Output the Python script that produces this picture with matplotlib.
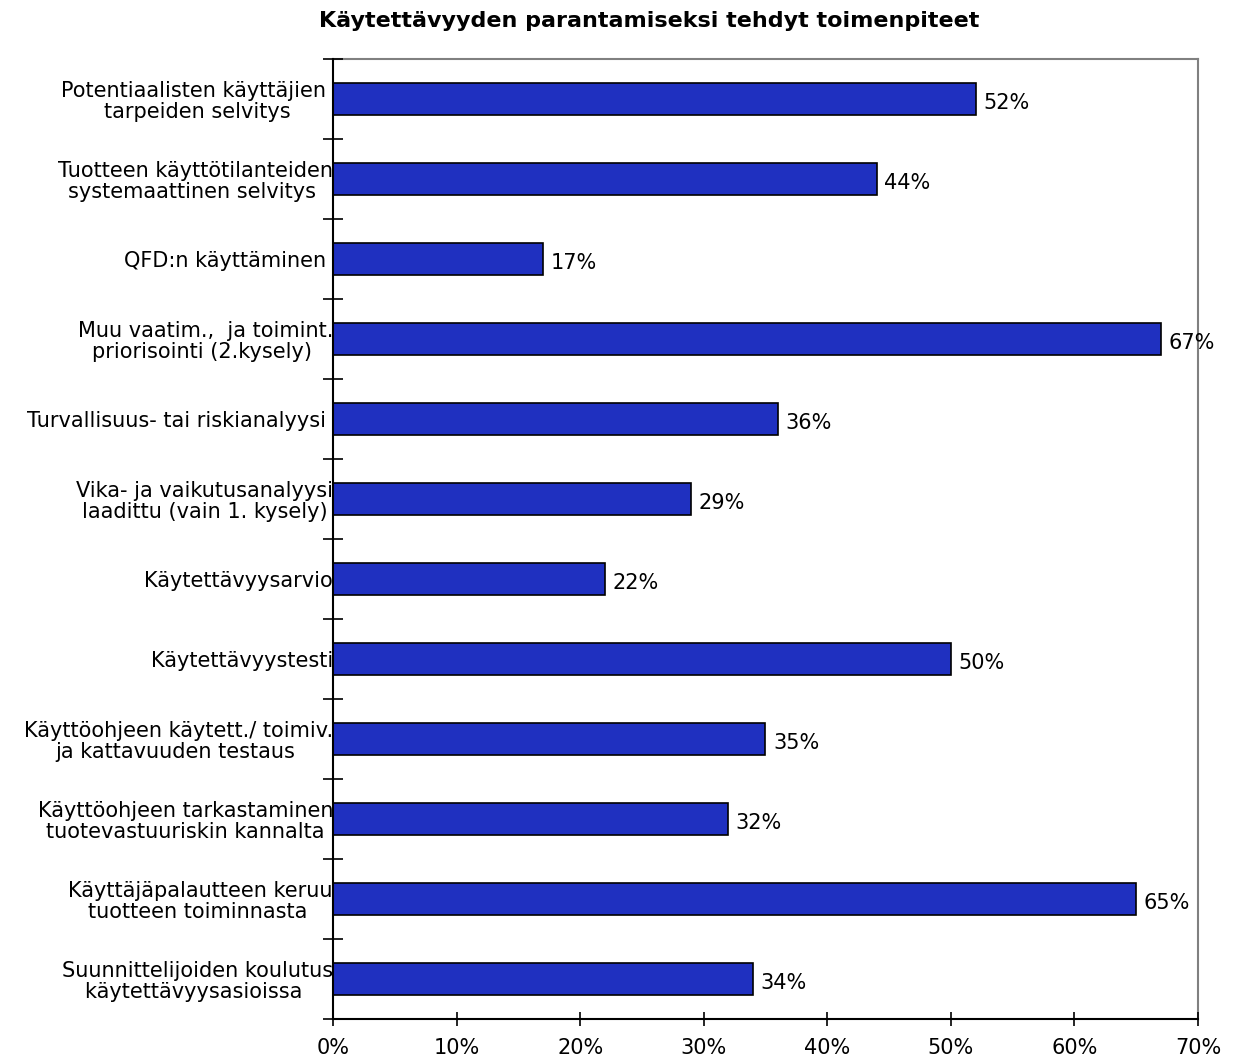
import numpy as np
import matplotlib.pyplot as plt
from matplotlib.ticker import FixedLocator, PercentFormatter

toimenpiteet = [
    "Potentiaalisten käyttäjien \ntarpeiden selvitys",
    "Tuotteen käyttötilanteiden\nsystemaattinen selvitys ",
    "QFD:n käyttäminen ",
    "Muu vaatim.,  ja toimint.\npriorisointi (2.kysely) ",
    "Turvallisuus- tai riskianalyysi ",
    "Vika- ja vaikutusanalyysi\nlaadittu (vain 1. kysely)",
    "Käytettävyysarvio",
    "Käytettävyystesti",
    "Käyttöohjeen käytett./ toimiv.\nja kattavuuden testaus ",
    "Käyttöohjeen tarkastaminen\ntuotevastuuriskin kannalta",
    "Käyttäjäpalautteen keruu\ntuotteen toiminnasta ",
    "Suunnittelijoiden koulutus\nkäytettävyysasioissa ",
]
osuudet = [52, 44, 17, 67, 36, 29, 22, 50, 35, 32, 65, 34]
otsikko = "Käytettävyyden parantamiseksi tehdyt toimenpiteet"

plt.rcParams['font.family'] = 'DejaVu Sans'
plt.rcParams['font.size'] = 15

fig = plt.figure(figsize=(12.35, 10.57), dpi=100)
ax = fig.add_axes([333 / 1235, 1 - 1019 / 1057, 865 / 1235, (1019 - 59) / 1057])

y = np.arange(len(toimenpiteet))
ax.barh(y, osuudet, height=0.4, color='#1F30C0', edgecolor='black', linewidth=1.2, zorder=2)

# prosenttiluku palkin perään
for yi, v in zip(y, osuudet):
    ax.text(v + 0.6, yi + 0.05, f"{v}%", va='center', ha='left', fontsize=15, zorder=4)

ax.set_xlim(0, 70)
ax.set_ylim(len(toimenpiteet) - 0.5, -0.5)

ax.set_xticks(np.arange(0, 71, 10))
ax.xaxis.set_major_formatter(PercentFormatter(decimals=0))
ax.tick_params(axis='x', direction='inout', length=10, width=1.2, pad=9, labelsize=15)

ax.set_yticks(y)
ax.set_yticklabels(toimenpiteet, multialignment='center', linespacing=1.05)
ax.tick_params(axis='y', which='major', length=0, pad=0, labelsize=15)
ax.yaxis.set_minor_locator(FixedLocator(np.arange(-0.5, len(toimenpiteet), 1)))
ax.tick_params(axis='y', which='minor', direction='inout', length=14, width=1.2)

for side in ('left', 'bottom'):
    ax.spines[side].set_color('black')
    ax.spines[side].set_linewidth(1.5)
for side in ('top', 'right'):
    ax.spines[side].set_color('#808080')
    ax.spines[side].set_linewidth(1.5)
    ax.spines[side].set_zorder(1)

fig.text(649 / 1235, 1 - 21 / 1057, otsikko, ha='center', va='center',
         fontsize=16, fontweight='bold')

fig.savefig('out.png', dpi=100)
